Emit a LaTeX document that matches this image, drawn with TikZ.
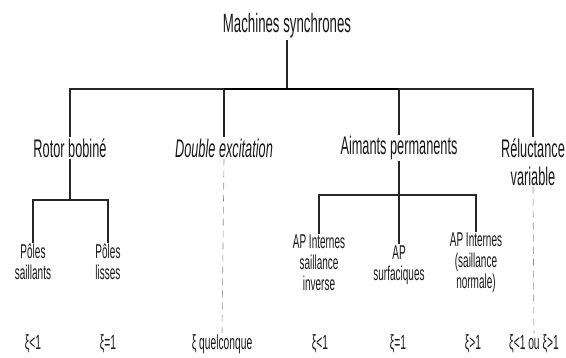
\documentclass[tikz,border=0pt]{standalone}
\usepackage{fontspec}
\setmainfont{Liberation Sans}[FakeStretch=0.5]
\usetikzlibrary{positioning, calc}
\colorlet{lineColor}{black!85}
\colorlet{dashColor}{black!45}
\tikzstyle{title}=[font=\fontsize{26.5}{30}\selectfont, inner sep=1pt, text=black!90]
\tikzstyle{family}=[font=\fontsize{25.5}{28}\selectfont, align=center, inner sep=1pt, text=black!90]
\tikzstyle{leaf}=[font=\fontsize{20}{21}\selectfont, align=center, inner sep=1pt, text=black!90]
\tikzstyle{ratio}=[font=\fontsize{20.5}{22}\selectfont, inner sep=1pt, text=black!90]
\tikzstyle{branch}=[line width=1.4pt, draw=lineColor]
\tikzstyle{mainBar}=[line width=2.6pt, draw=black]
\tikzstyle{open}=[line width=0.6pt, draw=dashColor, dash pattern=on 7pt off 5pt]

\begin{document}
\begin{tikzpicture}[x=1pt, y=-1pt]
      \useasboundingbox (0,0) rectangle (566,358);
      % top
      \node(ms) at (287,26) [title] {Machines synchrones};
      \coordinate(bar) at (287,89);
      % families
      \node(rotor) at (70,148) [family] {Rotor bobiné};
      \node(double) at (224,148) [family] {\itshape Double excitation};
      \node(aimants) at (399,148) [family] {Aimants permanents};
      \node(reluct) at (533,162) [family] {Réluctance\\variable};
      % sub families
      \node(saillants) at (33,262) [leaf] {Pôles\\saillants};
      \node(lisses) at (108,262) [leaf] {Pôles\\lisses};
      \node(inverse) at (319,263) [leaf] {AP Internes\\saillance\\inverse};
      \node(surf) at (399,265) [leaf] {AP\\surfaciques};
      \node(normale) at (476,263) [leaf] {AP Internes\\(saillance\\normale)};
      \coordinate(rbar) at (70,200);
      \coordinate(abar) at (399,195);
      % saliency ratio
      \node(xi1) at (33,344) [ratio] {ξ<1};
      \node(xi2) at (108,344) [ratio] {ξ=1};
      \node(xiq) at (222,344) [ratio] {ξ quelconque};
      \node(xi3) at (320,344) [ratio] {ξ<1};
      \node(xi4) at (398,344) [ratio] {ξ=1};
      \node(xi5) at (473,344) [ratio] {ξ>1};
      \node(xiou) at (534,344) [ratio] {ξ<1 ou ξ>1};
      % connectors
      \draw[branch] (ms) to (bar);
      \draw[branch] (rotor.north) |- (bar) -| (reluct.north);
      \draw[branch] (double.north) to (double.north |- bar);
      \draw[branch] (aimants.north) to (aimants.north |- bar);
      \draw[mainBar] (double.north |- bar) to (aimants.north |- bar);
      \draw[branch] (rotor.south) to (rbar);
      \draw[branch] (saillants.north) |- (rbar) -| (lisses.north);
      \draw[branch] (aimants.south) to (surf.north);
      \draw[branch] (inverse.north) |- (abar) -| (normale.north);
      \draw[open] (double.south) to (xiq.north);
      \draw[open] (reluct.south) to (xiou.north);
    \end{tikzpicture}
\end{document}
